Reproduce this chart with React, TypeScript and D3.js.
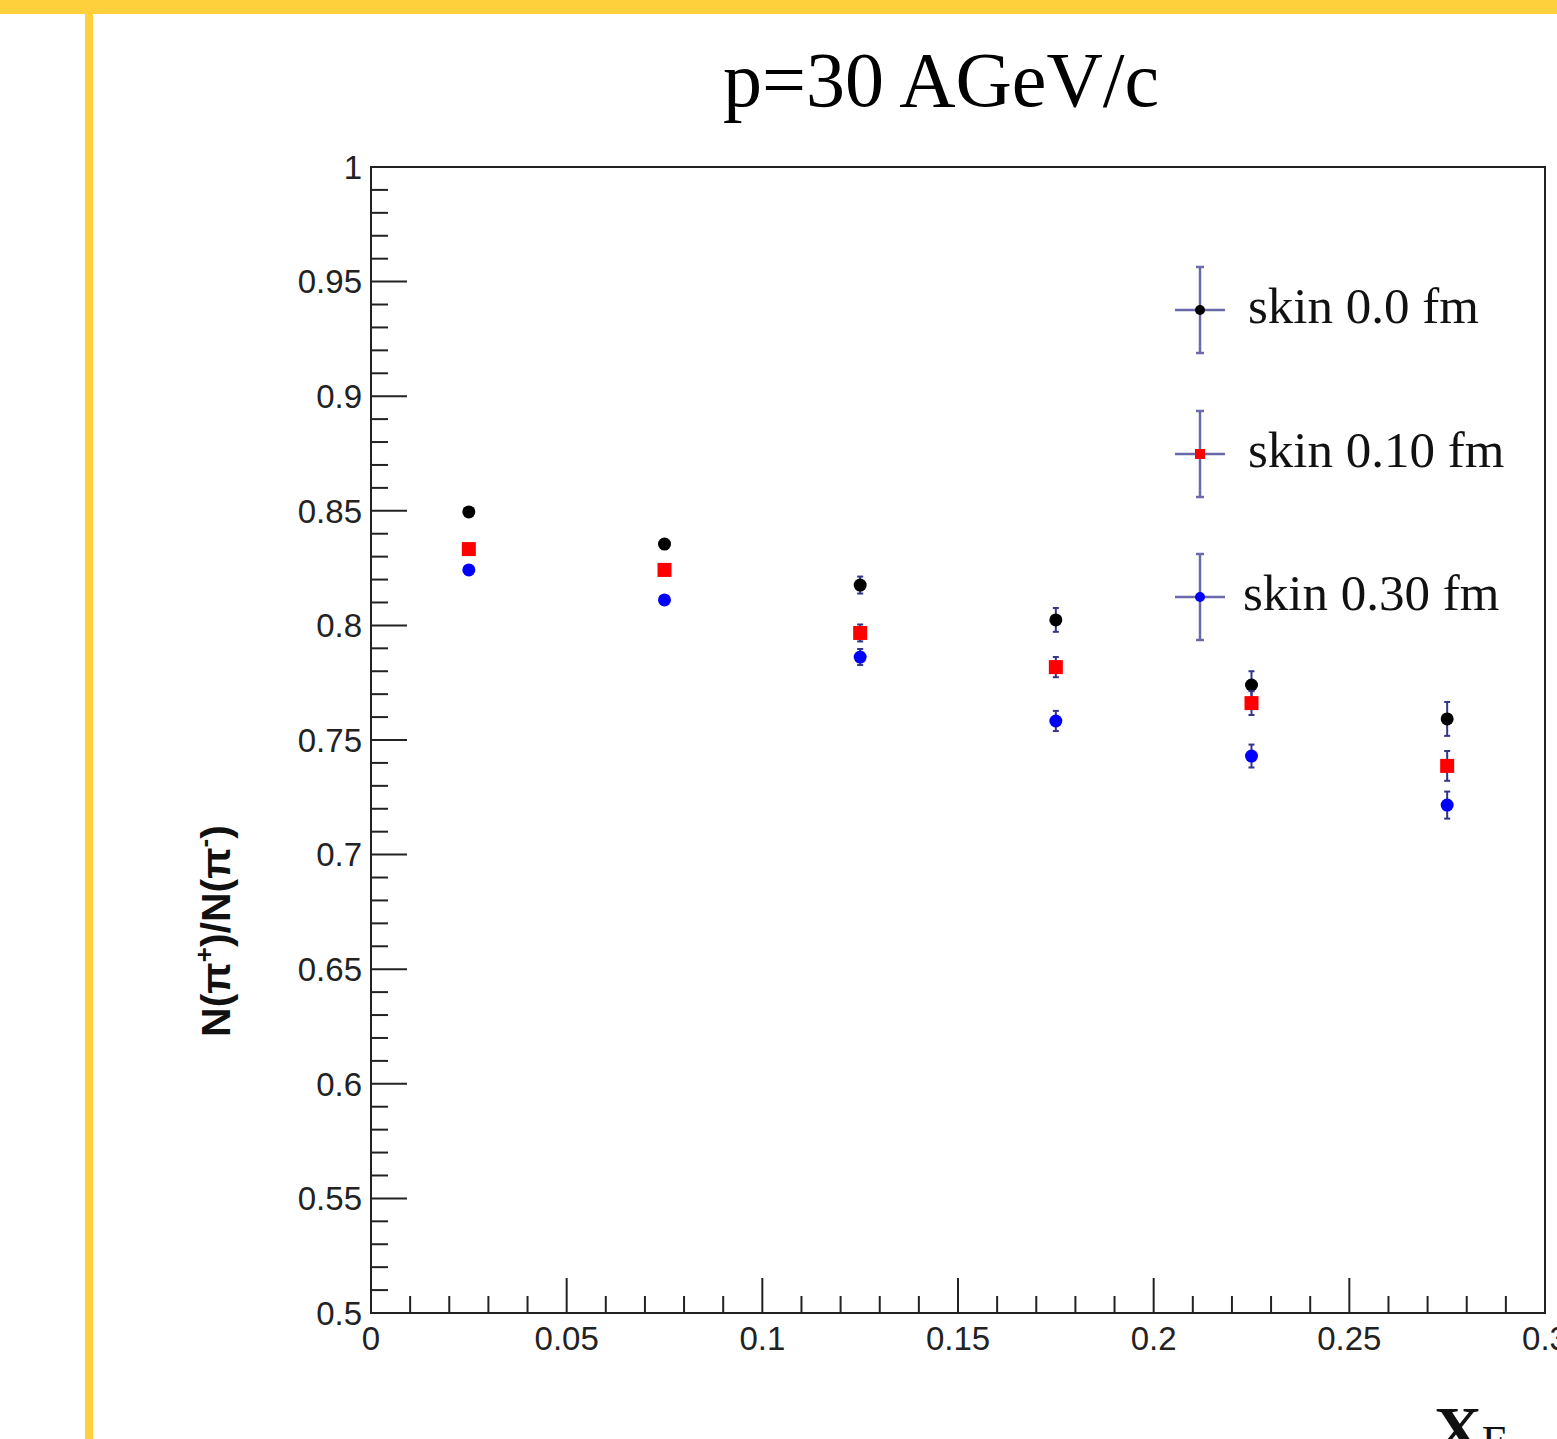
import React from "react";
import * as d3 from "d3";

const xCenters = [0.025, 0.075, 0.125, 0.175, 0.225, 0.275];
const skin00 = [0.8495, 0.8355, 0.8176, 0.8024, 0.774, 0.7592];
const skin00Err = [0.001, 0.002, 0.0037, 0.0052, 0.006, 0.0074];
const skin10 = [0.8333, 0.8242, 0.7967, 0.7818, 0.7661, 0.7387];
const skin10Err = [0.001, 0.0015, 0.0037, 0.0044, 0.0052, 0.0065];
const skin30 = [0.8242, 0.8111, 0.7862, 0.7583, 0.743, 0.7216];
const skin30Err = [0.001, 0.001, 0.0035, 0.0044, 0.005, 0.0059];
const seriesNames = ["skin 0.0 fm", "skin 0.10 fm", "skin 0.30 fm"];
const xTickLabels = ["0", "0.05", "0.1", "0.15", "0.2", "0.25", "0.3"];
const yTickLabels = ["0.5", "0.55", "0.6", "0.65", "0.7", "0.75", "0.8", "0.85", "0.9", "0.95", "1"];

const W = 1557;
const H = 1439;
const left = 371, right = 1545, top = 167, bottom = 1313;

export default function App() {
  const x = d3.scaleLinear().domain([0, 0.3]).range([left, right]);
  const y = d3.scaleLinear().domain([0.5, 1]).range([bottom, top]);
  const errColor = "#34348a";
  const legColor = "#6a6aaa";
  const series = [
    { name: seriesNames[0], vals: skin00, errs: skin00Err, color: "#000000", shape: "circle" },
    { name: seriesNames[1], vals: skin10, errs: skin10Err, color: "#ff0000", shape: "square" },
    { name: seriesNames[2], vals: skin30, errs: skin30Err, color: "#0000ff", shape: "circle" },
  ];
  const xMinor = d3.range(1, 30).map((i) => i * 0.01).filter((v) => Math.abs(v * 20 - Math.round(v * 20)) > 1e-6);
  const yMinor = d3.range(51, 100).map((i) => i * 0.01).filter((v) => Math.abs(v * 20 - Math.round(v * 20)) > 1e-6);
  const legendY = [310, 454, 597];
  const legendTextX = [1248, 1248, 1243];

  const marker = (s: any, cx: number, cy: number, key: string) =>
    s.shape === "square" ? (
      <rect key={key} x={cx - 7} y={cy - 7} width={14} height={14} fill={s.color} />
    ) : (
      <circle key={key} cx={cx} cy={cy} r={6.5} fill={s.color} />
    );

  return (
    <svg width={W} height={H} style={{ position: "absolute", left: 0, top: 0, background: "#fff" }}>
      <rect x={0} y={0} width={W} height={14} fill="#FDD03C" />
      <rect x={85} y={0} width={8} height={H} fill="#FDD03C" />

      <text x={941} y={106} textAnchor="middle" fontFamily="Liberation Serif, serif" fontSize={78} fill="#000">
        p=30 AGeV/c
      </text>

      {/* frame */}
      <rect x={left} y={top} width={right - left} height={bottom - top} fill="none" stroke="#222" strokeWidth={2} />

      {/* y ticks */}
      {yTickLabels.map((t) => (
        <g key={"yt" + t}>
          <line x1={left} x2={left + 36} y1={y(+t)} y2={y(+t)} stroke="#222" strokeWidth={2} />
          <text x={362} y={y(+t)} dy="0.36em" textAnchor="end" fontFamily="Liberation Sans, Arial, sans-serif" fontSize={33} fill="#222">
            {t}
          </text>
        </g>
      ))}
      {yMinor.map((v) => (
        <line key={"ym" + v} x1={left} x2={left + 17} y1={y(v)} y2={y(v)} stroke="#222" strokeWidth={2} />
      ))}

      {/* x ticks */}
      {xTickLabels.map((t) => (
        <g key={"xt" + t}>
          <line x1={x(+t)} x2={x(+t)} y1={bottom} y2={bottom - 35} stroke="#222" strokeWidth={2} />
          <text x={x(+t)} y={1350} textAnchor="middle" fontFamily="Liberation Sans, Arial, sans-serif" fontSize={33} fill="#222">
            {t}
          </text>
        </g>
      ))}
      {xMinor.map((v) => (
        <line key={"xm" + v} x1={x(v)} x2={x(v)} y1={bottom} y2={bottom - 17} stroke="#222" strokeWidth={2} />
      ))}

      {/* data */}
      {series.map((s, si) => (
        <g key={"s" + si}>
          {s.vals.map((v, i) => {
            const cx = x(xCenters[i]);
            const y1 = y(v + s.errs[i]);
            const y2 = y(v - s.errs[i]);
            return (
              <g key={"e" + i}>
                <line x1={cx} x2={cx} y1={y1} y2={y2} stroke={errColor} strokeWidth={2} />
                <line x1={cx - 3} x2={cx + 3} y1={y1} y2={y1} stroke={errColor} strokeWidth={2} />
                <line x1={cx - 3} x2={cx + 3} y1={y2} y2={y2} stroke={errColor} strokeWidth={2} />
              </g>
            );
          })}
          {s.vals.map((v, i) => marker(s, x(xCenters[i]), y(v), "m" + i))}
        </g>
      ))}

      {/* legend */}
      {series.map((s, si) => {
        const ly = legendY[si];
        return (
          <g key={"l" + si}>
            <line x1={1200} x2={1200} y1={ly - 43} y2={ly + 43} stroke={legColor} strokeWidth={2.5} />
            <line x1={1196} x2={1204} y1={ly - 43} y2={ly - 43} stroke={legColor} strokeWidth={2.5} />
            <line x1={1196} x2={1204} y1={ly + 43} y2={ly + 43} stroke={legColor} strokeWidth={2.5} />
            <line x1={1175} x2={1225} y1={ly} y2={ly} stroke={legColor} strokeWidth={2.5} />
            {s.shape === "square" ? (
              <rect x={1195} y={ly - 5} width={10} height={10} fill={s.color} />
            ) : (
              <circle cx={1200} cy={ly} r={5} fill={s.color} />
            )}
            <text x={legendTextX[si]} y={ly + 13} fontFamily="Liberation Serif, serif" fontSize={51} fill="#111">
              {s.name}
            </text>
          </g>
        );
      })}

      {/* y axis title */}
      <text
        transform={`translate(230, 931) rotate(-90)`}
        textAnchor="middle"
        fontFamily="Liberation Sans, Arial, sans-serif"
        fontWeight="bold"
        fontSize={41}
        fill="#111"
      >
        N(π<tspan fontSize={26} dy={-17}>+</tspan>
        <tspan dy={17}>)/N(π</tspan>
        <tspan fontSize={26} dy={-17}>-</tspan>
        <tspan dy={17}>)</tspan>
      </text>

      {/* x axis title */}
      <text x={1434} y={1452} fontFamily="Liberation Serif, serif" fill="#111">
        <tspan fontWeight="bold" fontSize={66}>X</tspan>
        <tspan fontSize={44} dy={4}>F</tspan>
      </text>
    </svg>
  );
}
